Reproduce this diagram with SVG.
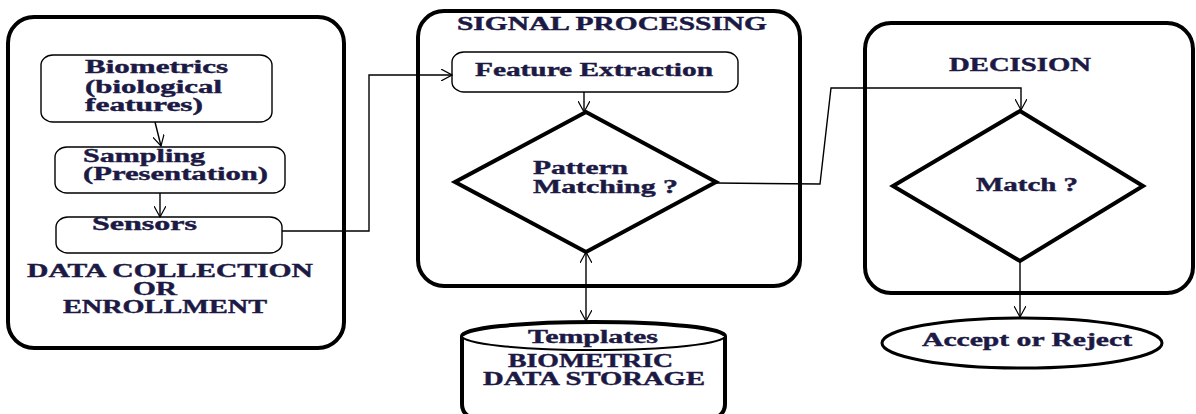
<svg xmlns="http://www.w3.org/2000/svg" width="1196" height="414" viewBox="0 0 1196 414">
<style>
.t{font-family:"Liberation Serif","Times New Roman",serif;font-weight:bold;font-size:18px;fill:#1c1a44;stroke:#1c1a44;stroke-width:0.4}
.outer{fill:none;stroke:#000;stroke-width:4}
.box{fill:#fff;stroke:#000;stroke-width:1.4}
.dia{fill:#fff;stroke:#000;stroke-width:4;stroke-linejoin:miter}
.c{fill:none;stroke:#000;stroke-width:1.4}
</style>
<defs>
<marker id="ah" markerWidth="12" markerHeight="12" refX="11" refY="6" orient="auto-start-reverse" markerUnits="userSpaceOnUse">
<path d="M0,0 L11,6 L0,12" fill="none" stroke="#000" stroke-width="1.2"/>
</marker>
</defs>
<rect width="1196" height="414" fill="#fff"/>

<g id="data-collection">
<rect class="outer" x="8" y="17" width="336" height="331" rx="26" ry="26"/>
<text class="t" x="27" y="277" textLength="286" lengthAdjust="spacingAndGlyphs">DATA COLLECTION</text>
<text class="t" x="133" y="295" textLength="44" lengthAdjust="spacingAndGlyphs">OR</text>
<text class="t" x="63" y="313" textLength="204" lengthAdjust="spacingAndGlyphs">ENROLLMENT</text>
</g>
<g id="biometrics">
<rect class="box" x="41" y="55" width="231" height="67" rx="12" ry="10"/>
<text class="t" x="85" y="73" textLength="143" lengthAdjust="spacingAndGlyphs">Biometrics</text>
<text class="t" x="85" y="93" textLength="137" lengthAdjust="spacingAndGlyphs">(biological</text>
<text class="t" x="85" y="111" textLength="118" lengthAdjust="spacingAndGlyphs">features)</text>
</g>
<g id="sampling">
<rect class="box" x="55" y="147" width="230" height="46" rx="12" ry="10"/>
<text class="t" x="83" y="162" textLength="122" lengthAdjust="spacingAndGlyphs">Sampling</text>
<text class="t" x="83" y="180" textLength="185" lengthAdjust="spacingAndGlyphs">(Presentation)</text>
</g>
<g id="sensors">
<rect class="box" x="56" y="217" width="226" height="36" rx="12" ry="10"/>
<text class="t" x="92" y="230" textLength="105" lengthAdjust="spacingAndGlyphs">Sensors</text>
</g>

<g id="signal-processing">
<rect class="outer" x="418" y="11" width="382" height="275" rx="26" ry="26"/>
<text class="t" x="457" y="30" textLength="310" lengthAdjust="spacingAndGlyphs">SIGNAL PROCESSING</text>
</g>
<g id="feature-extraction">
<rect class="box" x="452" y="52" width="286" height="40" rx="12" ry="10"/>
<text class="t" x="475" y="76" textLength="238" lengthAdjust="spacingAndGlyphs">Feature Extraction</text>
</g>
<g id="pattern-matching">
<polygon class="dia" points="586,112 716,182 586,252 455,182"/>
<text class="t" x="533" y="174" textLength="95" lengthAdjust="spacingAndGlyphs">Pattern</text>
<text class="t" x="533" y="193" textLength="145" lengthAdjust="spacingAndGlyphs">Matching ?</text>
</g>
<g id="storage">
<path d="M462,336 V404 Q462,414 472,418 M725,336 V404 Q725,414 715,418" fill="none" stroke="#000" stroke-width="4"/>
<ellipse cx="593.5" cy="336" rx="131.5" ry="14" fill="#fff" stroke="#000" stroke-width="2"/>
<path d="M462,336 A131.5,14 0 0 1 725,336" fill="none" stroke="#000" stroke-width="4"/>
<text class="t" x="528" y="343" textLength="130" lengthAdjust="spacingAndGlyphs">Templates</text>
<text class="t" x="508" y="367" textLength="165" lengthAdjust="spacingAndGlyphs">BIOMETRIC</text>
<text class="t" x="483" y="385" textLength="222" lengthAdjust="spacingAndGlyphs">DATA STORAGE</text>
</g>

<g id="decision">
<rect class="outer" x="865" y="23" width="328" height="270" rx="26" ry="26"/>
<text class="t" x="949" y="71" textLength="142" lengthAdjust="spacingAndGlyphs">DECISION</text>
</g>
<g id="match">
<polygon class="dia" points="1020,111 1143,186 1020,261 893,186"/>
<text class="t" x="976" y="191" textLength="102" lengthAdjust="spacingAndGlyphs">Match ?</text>
</g>
<g id="accept-reject">
<ellipse cx="1022" cy="343" rx="140" ry="25" fill="#fff" stroke="#000" stroke-width="3"/>
<text class="t" x="922" y="346" textLength="210" lengthAdjust="spacingAndGlyphs">Accept or Reject</text>
</g>

<g id="connectors">
<path class="c" d="M155,122 L161,146" marker-end="url(#ah)"/>
<path class="c" d="M160,193 L160,217" marker-end="url(#ah)"/>
<path class="c" d="M282,231 L369,231 L369,75 L452,75" marker-end="url(#ah)"/>
<path class="c" d="M584,92 L584,112" marker-end="url(#ah)"/>
<path class="c" d="M586,252 L586,321" marker-start="url(#ah)" marker-end="url(#ah)"/>
<path class="c" d="M716,183 L820,184 L831,88 L1021,88 L1021,110" marker-end="url(#ah)"/>
<path class="c" d="M1020,261 L1020,317" marker-end="url(#ah)"/>
</g>
</svg>
